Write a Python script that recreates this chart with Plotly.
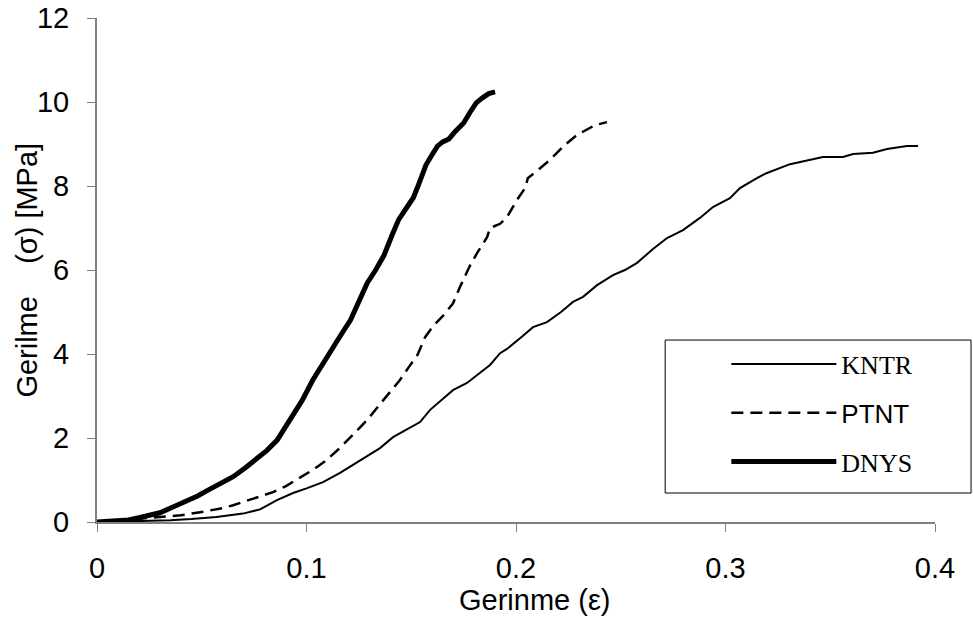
import plotly.graph_objects as go

# ---- data ----
kntr_x = [0, 0.02, 0.035, 0.045, 0.057, 0.0697, 0.0778, 0.0859, 0.0936, 0.1, 0.1079, 0.116, 0.125,
          0.1351, 0.1413, 0.148, 0.1542, 0.159, 0.1645, 0.1699, 0.1766, 0.182, 0.1876, 0.1924, 0.1957,
          0.2025, 0.2081, 0.2148, 0.2215, 0.2272, 0.232, 0.2387, 0.2463, 0.252, 0.2578, 0.2654, 0.2721,
          0.2797, 0.2878, 0.294, 0.3021, 0.3069, 0.315, 0.3198, 0.3308, 0.3465, 0.3561, 0.3609, 0.3704,
          0.3771, 0.3866, 0.3919]
kntr_y = [0, 0.02, 0.04, 0.07, 0.12, 0.2, 0.3, 0.52, 0.69, 0.8, 0.95, 1.17, 1.45,
          1.76, 2.02, 2.2, 2.38, 2.67, 2.9, 3.14, 3.31, 3.52, 3.74, 4.02, 4.12,
          4.4, 4.64, 4.76, 5.0, 5.24, 5.36, 5.64, 5.88, 6.0, 6.17, 6.5, 6.76,
          6.95, 7.24, 7.5, 7.71, 7.95, 8.19, 8.31, 8.52, 8.69, 8.69, 8.76, 8.79,
          8.88, 8.95, 8.95]

ptnt_x = [0, 0.01, 0.02, 0.03, 0.04, 0.05, 0.06, 0.065, 0.07, 0.077, 0.084, 0.09, 0.097, 0.103,
          0.109, 0.115, 0.122, 0.129, 0.134, 0.138, 0.1446, 0.149, 0.153, 0.1566, 0.1604, 0.165,
          0.1699, 0.1733, 0.178, 0.1814, 0.1862, 0.1876, 0.1924, 0.1957, 0.2005, 0.2043, 0.2057,
          0.2105, 0.2162, 0.2234, 0.229, 0.2377, 0.2434]
ptnt_y = [0, 0.03, 0.08, 0.12, 0.16, 0.24, 0.33, 0.4, 0.48, 0.6, 0.71, 0.85, 1.05, 1.24,
          1.45, 1.72, 2.07, 2.43, 2.74, 2.98, 3.38, 3.7, 3.98, 4.4, 4.66, 4.9,
          5.2, 5.6, 6.1, 6.4, 6.78, 7.0, 7.1, 7.26, 7.67, 7.95, 8.19,
          8.38, 8.62, 8.98, 9.21, 9.45, 9.52]

dnys_x = [0, 0.005, 0.01, 0.015, 0.02, 0.025, 0.03, 0.036, 0.042, 0.048, 0.053, 0.059, 0.065, 0.071,
          0.076, 0.081, 0.086, 0.09, 0.094, 0.098, 0.103, 0.108, 0.113, 0.117, 0.121, 0.125, 0.129,
          0.133, 0.137, 0.141, 0.144, 0.148, 0.151, 0.154, 0.157, 0.160, 0.1625, 0.165, 0.168, 0.171,
          0.175, 0.178, 0.181, 0.184, 0.187, 0.19]
dnys_y = [0, 0.01, 0.03, 0.05, 0.1, 0.15, 0.22, 0.35, 0.48, 0.62, 0.76, 0.93, 1.08, 1.3,
          1.5, 1.7, 1.95, 2.25, 2.6, 2.9, 3.38, 3.8, 4.17, 4.5, 4.81, 5.25, 5.69,
          6.0, 6.35, 6.85, 7.2, 7.5, 7.72, 8.1, 8.5, 8.75, 8.95, 9.05, 9.12, 9.3,
          9.5, 9.75, 9.98, 10.1, 10.2, 10.24]

x_ticks = [0, 0.1, 0.2, 0.3, 0.4]
x_tick_labels = ["0", "0.1", "0.2", "0.3", "0.4"]
y_ticks = [0, 2, 4, 6, 8, 10, 12]
y_tick_labels = ["0", "2", "4", "6", "8", "10", "12"]

SANS = "Arial, Liberation Sans, sans-serif"
SERIF = "Times New Roman, Liberation Serif, serif"

fig = go.Figure()
fig.add_trace(go.Scatter(x=kntr_x, y=kntr_y, mode="lines", name="KNTR", legendgroup="a",
                         line=dict(color="black", width=2)))
fig.add_trace(go.Scatter(x=ptnt_x, y=ptnt_y, mode="lines", legendgroup="b",
                         name='<span style="font-family:Arial, Liberation Sans, sans-serif">PTNT</span>',
                         line=dict(color="black", width=2.5, dash="12px,7px")))
fig.add_trace(go.Scatter(x=dnys_x, y=dnys_y, mode="lines", name="DNYS", legendgroup="c",
                         line=dict(color="black", width=5)))

axis_common = dict(showgrid=False, zeroline=False, showline=True, linecolor="#808080",
                   linewidth=2, ticks="outside", ticklen=8, tickcolor="#808080", tickwidth=1,
                   automargin=False,
                   tickfont=dict(family=SANS, size=29, color="black"))

fig.update_xaxes(range=[0, 0.4], tickvals=x_ticks, ticktext=x_tick_labels,
                 ticklabelstandoff=11, **axis_common)
fig.update_yaxes(range=[0, 12], tickvals=y_ticks, ticktext=y_tick_labels,
                 ticklabelstandoff=12, **axis_common)

fig.update_layout(
    width=973, height=631,
    margin=dict(l=97, r=38, t=18, b=109),
    plot_bgcolor="white", paper_bgcolor="white",
    showlegend=True,
    legend=dict(x=0.751, y=0.36, xref="paper", yref="paper", xanchor="left", yanchor="top",
                bgcolor="rgba(0,0,0,0)", borderwidth=0,
                font=dict(family=SERIF, size=26, color="black"),
                itemwidth=105, tracegroupgap=12, traceorder="grouped"),
    shapes=[
        dict(type="rect", xref="paper", yref="paper", x0=0.678, x1=1.043, y0=0.0575, y1=0.361,
             line=dict(color="black", width=1), fillcolor="rgba(0,0,0,0)", layer="below"),
    ],
    annotations=[
        dict(text="Gerinme (ε)", xref="paper", yref="paper", x=0.5227, y=-0.155,
             xanchor="center", yanchor="middle", showarrow=False,
             font=dict(family=SANS, size=29, color="black")),
        dict(text="Gerilme\u00a0\u00a0\u00a0 (σ) [MPa]", xref="paper", yref="paper", x=-0.084, y=0.5,
             xanchor="center", yanchor="middle", showarrow=False, textangle=-90,
             font=dict(family=SANS, size=29, color="black")),
    ],
)

fig.write_html("out.html", config={"displayModeBar": False},
               post_script="document.body.style.margin='0';")
